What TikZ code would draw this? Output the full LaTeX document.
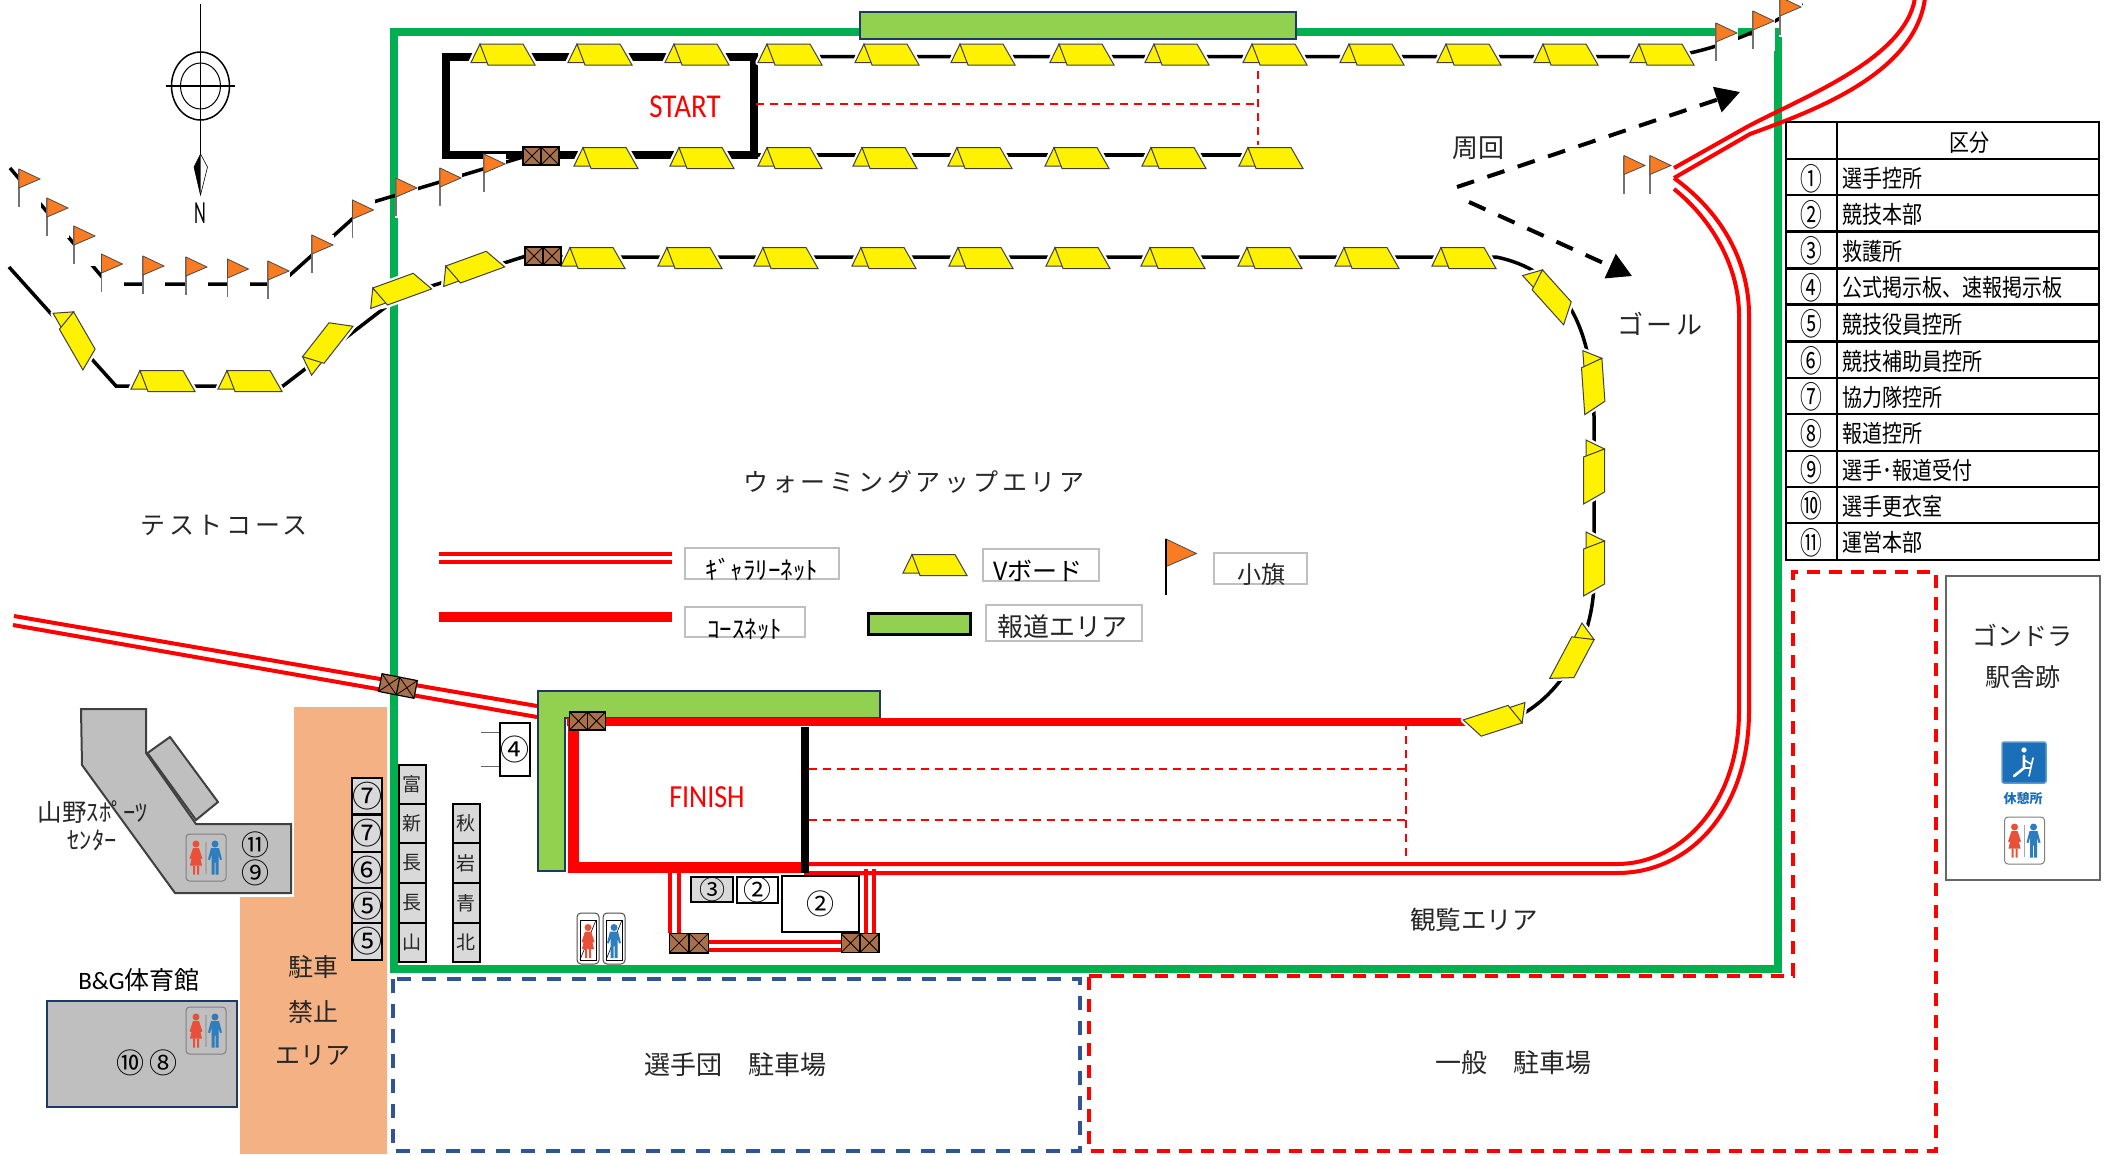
\documentclass[tikz,border=0pt]{standalone}
\usepackage{fontspec}
\usetikzlibrary{arrows.meta}
\setmainfont{Noto Sans CJK JP}
\newfontfamily\latinf{Carlito}
\newfontfamily\kanaw[LetterSpace=15]{Noto Sans CJK JP}
\newcommand\myfs[1]{\fontsize{#1}{#1}\selectfont}
\definecolor{grn}{HTML}{00B050}
\definecolor{pressg}{HTML}{92D050}
\definecolor{navy}{HTML}{1F3864}
\definecolor{dblue}{HTML}{2F5597}
\definecolor{orng}{HTML}{F4B183}
\definecolor{bldg}{HTML}{BFBFBF}
\definecolor{stk}{HTML}{D9D9D9}
\definecolor{yel}{HTML}{FFF200}
\definecolor{flagc}{HTML}{F97B22}
\definecolor{crate}{HTML}{A9714B}
\definecolor{wred}{HTML}{E8503A}
\definecolor{mblue}{HTML}{2E7DBE}
\definecolor{txt}{HTML}{262626}
\definecolor{rest}{HTML}{1B6FB8}
\tikzset{
  x=1pt,y=-1pt,
  lab/.style={inner sep=0,text=txt},
  gnet/.style={draw=red,line width=4,line cap=butt},
  blk/.style={draw=black,line width=3.5},
  blkt/.style={draw=black,line width=7.5,line cap=square},
  rdash/.style={draw=red,line width=2,dash pattern=on 8pt off 6pt},
  legbox/.style={draw=bldg,line width=1.5,fill=white},
  stackbox/.style={draw=black,line width=2,fill=stk,minimum width=27,inner sep=0,text=txt},
  tline/.style={draw=black,line width=2.6},
  vb/.pic={
    \path[draw=white,line width=5.5,line join=round,fill=white] (-23,-10.5)--(-32,8)--(-15,10.5)--(32,10.5)--(20,-10.5)--cycle;
    \filldraw[fill=yel,draw=black!75,line width=1] (-23,-10.5)--(-32,8)--(-15,8)--cycle;
    \filldraw[fill=yel,draw=black!75,line width=1] (-23,-10.5)--(20,-10.5)--(32,10.5)--(-15,10.5)--cycle;
  },
  flag/.pic={
    \fill[white] (-1,0) rectangle (22,40);
    \draw[black!55,line width=1.5] (0,0)--(0,38);
    \filldraw[fill=flagc,draw=black!70,line width=.8] (0,0)--(21,10)--(0,19)--cycle;
  },
  cratep/.pic={
    \filldraw[fill=crate,draw=black,line width=1.2] (-18,-9) rectangle (18,9);
    \draw[black,line width=1.2] (0,-9)--(0,9);
    \draw[black,line width=.8] (-18,-9)--(0,9) (-18,9)--(0,-9) (0,-9)--(18,9) (0,9)--(18,-9);
  },
  wfig/.pic={
    \fill[wred] (0,-13.5) circle (3.5);
    \fill[wred] (-3,-9.5)--(3,-9.5)--(6.5,1)--(4.5,1.5)--(6,8)--(-6,8)--(-4.5,1.5)--(-6.5,1)--cycle;
    \fill[wred] (-3,8) rectangle (-1,17) (1,8) rectangle (3,17);
  },
  mfig/.pic={
    \fill[mblue] (0,-13.5) circle (3.5);
    \fill[mblue] (-4,-9.5)--(4,-9.5)--(7,2)--(5,2.5)--(3.5,-3)--(3.5,17)--(.5,17)--(.5,5)--(-.5,5)--(-.5,17)--(-3.5,17)--(-3.5,-3)--(-5,2.5)--(-7,2)--cycle;
  },
  wcsign/.pic={
    \draw[black!50,line width=1,rounded corners=3.5] (-20,-23.5) rectangle (20,23.5);
    \draw[black!35,line width=1.3] (0,-16) -- (0,16);
    \pic at (-10,0) {wfig};
    \pic at (9,0) {mfig};
  },
}
\begin{document}
\begin{tikzpicture}
\useasboundingbox (0,0) rectangle (2116,1154);
\clip (0,0) rectangle (2116,1154);
\fill[white] (0,0) rectangle (2116,1154);

% no-parking area
\fill[orng] (294,707)--(387,707)--(387,1154)--(240,1154)--(240,897)--(294,897)--cycle;

% perimeter
\draw[grn,line width=8] (394,32) rectangle (1778,969);
\filldraw[fill=pressg,draw=navy,line width=2] (860,12) rectangle (1296,39);

% parking frames
\draw[dblue,line width=4,dash pattern=on 14pt off 11pt] (393,979) rectangle (1080,1151);
\draw[red,line width=3.5,dash pattern=on 13pt off 9pt] (1089,976)--(1793,976)--(1793,572)--(1936,572)--(1936,1151)--(1089,1151)--cycle;

% compass
\draw[black,line width=1.5] (200.5,4)--(200.5,155);
\draw[black,line width=1.5] (200.5,86) ellipse (29 and 34);
\draw[black,line width=1] (200.5,86) ellipse (20 and 23);
\draw[black,line width=2.5] (166,86)--(235,86);
\filldraw[fill=white,draw=black,line width=.6] (200.5,154)--(207.5,167)--(200.5,195)--(194,167)--cycle;
\fill[black] (200.5,154)--(194,167)--(200.5,195)--cycle;
\node[inner sep=0] (north) at (200,213) {\myfs{28}\latinf\scalebox{.65}[1.15]{N}};

% course fences: black lines
\draw[blkt] (754,57)--(446,57)--(446,155)--(754,155)--cycle;
\draw[blk] (754,56.5)--(1662,56.5) .. controls (1700,56) and (1770,30) .. (1802,3);
\draw[blk] (754,155)--(1271,155);
\draw[blk] (560,257)--(1496,257) .. controls (1560,270) and (1594,320) .. (1594,420) -- (1594,580) .. controls (1594,640) and (1560,700) .. (1510,720);
\draw[blk] (523,157)--(370,203)--(280,284)--(108,284)--(10,168);
\draw[blk] (526,256)--(400,296)--(283,386)--(116,386)--(9,267);

% net dashed lines
\draw[rdash] (756,104)--(1258,104);
\draw[rdash] (1258,57)--(1258,155);
\draw[rdash] (809,769)--(1406,769);
\draw[rdash] (809,820)--(1406,820);
\draw[rdash] (1406,722)--(1406,864);

% gallery net from the left
\draw[gnet] (14,616)--(537,706);
\draw[gnet] (13,625)--(537,717);
\pic[rotate=-11] at (398,686) {cratep};

% gallery net right
\draw[gnet] (804,864)--(1617,864) .. controls (1680,864) and (1739,805) .. (1739,711)--(1739,315) .. controls (1739,270) and (1715,222) .. (1674,189);
\draw[gnet] (804,873)--(1617,873) .. controls (1690,873) and (1749,810) .. (1749,711)--(1749,315) .. controls (1749,265) and (1725,215) .. (1674,178);
\draw[gnet] (1674,168)--(1745,128) .. controls (1800,98) and (1905,60) .. (1915,-2);
\draw[gnet] (1674,178)--(1750,134) .. controls (1810,112) and (1915,75) .. (1925,-2);

% gallery net below the finish
\draw[gnet] (670,873)--(670,933);
\draw[gnet] (679,873)--(679,933);
\draw[gnet] (865.5,869)--(865.5,933);
\draw[gnet] (874,869)--(874,933);
\draw[gnet] (708,942)--(841,942);
\draw[gnet] (708,950)--(841,950);
\pic[scale=1.1] at (689,943) {cratep};
\pic[scale=1.05] at (860,943) {cratep};

% press area L
\filldraw[fill=pressg,draw=navy,line width=2] (538,691)--(880,691)--(880,718)--(565,718)--(565,871)--(538,871)--cycle;

% finish
\draw[red,line width=8.5] (567,722)--(1467,722);
\draw[red,line width=11] (573.5,720)--(573.5,870);
\draw[red,line width=11] (568,867.5)--(804,867.5);
\draw[black,line width=7.5] (805,727)--(805,873);
\pic at (587.5,721) {cratep};

% buildings
\filldraw[fill=bldg,draw=black!75,line width=2] (147.5,753)--(170,737)--(218,802)--(196,820)--cycle;
\filldraw[fill=bldg,draw=black!75,line width=2] (81,709)--(146,709)--(146,753)--(196,824)--(291,824)--(291,893)--(175,893)--(82,765)--cycle;
\filldraw[fill=bldg,draw=navy,line width=2] (47,1001) rectangle (237,1107);
\pic at (206,857.5) {wcsign};
\pic at (206,1030.5) {wcsign};
\pic at (2024.5,840.5) {wcsign};
\node[lab,text=black] (c11) at (255,845) {\myfs{28}⑪};
\node[lab,text=black] (c9) at (255,873) {\myfs{28}⑨};
\node[lab,text=black] (c10) at (130,1063) {\myfs{28}⑩};
\node[lab,text=black] (c8) at (163,1063) {\myfs{28}⑧};
\node[lab] (yamano) at (93,812) {\myfs{24.5}山野ｽﾎﾟｰﾂ};
\node[lab] (center) at (92,840) {\myfs{24.5}ｾﾝﾀｰ};
\node[inner sep=0,text=black] (bg) at (139,980) {\myfs{25}{\latinf B\&G}体育館};

% no-parking label
\node[lab] (np1) at (313,967) {\myfs{25}駐車};
\node[lab] (np2) at (313,1012) {\myfs{25}禁止};
\node[lab] (np3) at (313,1056) {\myfs{25}エリア};

% stacks
\foreach \n/\y/\t in {1/796/⑦,2/833.5/⑦,3/870/⑥,4/906/⑤,5/941.5/⑤}
  \node[stackbox,minimum height=36.5,text=black] (sa\n) at (367,\y) {\myfs{30}\t};
\foreach \n/\y/\t in {1/784.5/富,2/823.5/新,3/863/長,4/903/長,5/942.5/山}
  \node[stackbox,minimum height=39.5] (sb\n) at (412,\y) {\myfs{19}\t};
\foreach \n/\y/\t in {1/823.5/秋,2/863/岩,3/903/青,4/942.5/北}
  \node[stackbox,minimum height=39.5] (sc\n) at (466,\y) {\myfs{19}\t};

% notice board 4
\draw[black!60,line width=2.4] (481,733)--(500,733) (481,767)--(500,767);
\draw[white,line width=.8] (481,733)--(500,733) (481,767)--(500,767);
\node[draw=black,line width=1.2,fill=white,minimum width=30,minimum height=53,inner sep=0,text=black] (b4) at (515,749.5) {\myfs{29}④};

% small offices
\node[draw=black,line width=2,fill=stk,minimum width=42,minimum height=25,inner sep=0,text=black] (b3) at (712,889.5) {\myfs{26}\raisebox{-2pt}{③}};
\node[draw=black,line width=2,fill=white,minimum width=41,minimum height=26,inner sep=0,text=black] (b2a) at (757.5,890) {\myfs{28}②};
\node[draw=black,line width=2,fill=white,minimum width=77,minimum height=56,inner sep=0,text=black] (b2b) at (820.5,904) {\myfs{28}②};

% toilet booths
\foreach \xa/\fg in {577/wfig,603/mfig}{
  \filldraw[fill=white,draw=black!70,line width=1,rounded corners=4] (\xa,913) rectangle (\xa+22,964);
  \draw[black,line width=.8] (\xa+3,920) rectangle (\xa+19,960);
  \draw[black,line width=.6] (\xa+3,960)--(\xa+19,920);
  \pic at (\xa+11,941) {\fg};
}

% boards: top row
\foreach \xb in {503,600,697,790,887,983,1082,1177,1275,1372,1469,1566,1662}
  \pic at (\xb,54.5) {vb};
% boards: second row
\foreach \xb in {606,702,790,885,980,1077,1174,1271}
  \pic at (\xb,158) {vb};
% boards: third row
\foreach \xb in {593,690,786,884,981,1078,1173,1270,1367,1464}
  \pic at (\xb,258) {vb};
% boards: rotated
\pic[rotate=20] at (398,290) {vb};
\pic[rotate=20] at (471,268) {vb};
\pic[rotate=52] at (325,345) {vb};
\pic at (163,381) {vb};
\pic at (250,381) {vb};
\pic[rotate=-60] at (76,337) {vb};
\pic[rotate=-48] at (1550,294) {vb};
\pic[rotate=-86] at (1593,382) {vb};
\pic[rotate=-90] at (1594,472) {vb};
\pic[rotate=-90] at (1594,564) {vb};
\pic[rotate=-118] at (1574,655) {vb};
\pic[rotate=-162] at (1497,720) {vb};

% crates at the start
\pic at (541,156) {cratep};
\pic at (543,256) {cratep};

% flags
\foreach \xf/\yf in {19/169,47/198,74/226,101.5/254,143/256,186/257,227.5/259,268/261,312/235,352.5/200,396/178,440/168,484/154,1716/23,1753/11,1780/-3,1624/155.5,1650/155.5}
  \pic at (\xf,\yf) {flag};

% flow arrows
\draw[black,line width=4,dash pattern=on 18pt off 14pt,-{Triangle[length=24,width=26]}] (1457,187)--(1740,92);
\draw[black,line width=4,dash pattern=on 18pt off 14pt,-{Triangle[length=24,width=26]}] (1469,202)--(1632,276);

% map labels
\node[red,inner sep=0] (start) at (685,107) {\myfs{29}\latinf\scalebox{1}[1.15]{START}};
\node[red,inner sep=0] (finish) at (707,797) {\myfs{28}\latinf\scalebox{1}[1.15]{FINISH}};
\node[lab] (lap) at (1478,148) {\myfs{26}周回};
\node[lab] (goal) at (1660,324) {\myfs{26}\kanaw ゴール};
\node[lab] (warm) at (914,482) {\myfs{25}\kanaw ウォーミングアップエリア};
\node[lab] (test) at (224,525) {\myfs{25}\kanaw テストコース};
\node[lab] (view) at (1474,920) {\myfs{25.5}観覧エリア};
\node[lab] (park1) at (735,1065) {\myfs{26}選手団　駐車場};
\node[lab] (park2) at (1513,1063) {\myfs{26}一般　駐車場};

% legend
\draw[gnet] (439,554)--(672,554);
\draw[gnet] (439,562)--(672,562);
\draw[red,line width=9.5] (439,617)--(672,617);
\path[legbox] (685,548) rectangle (839,579);
\node[lab,text=black] (lg1) at (762,570) {\myfs{25}ｷﾞｬﾗﾘｰﾈｯﾄ};
\path[legbox] (685,607) rectangle (805,637);
\node[lab,text=black] (lg2) at (744.5,629) {\myfs{25}ｺｰｽﾈｯﾄ};
\pic at (935,565) {vb};
\path[legbox] (983,549) rectangle (1099,581);
\node[lab,text=black] (lg3) at (1038,571) {\myfs{25}Vボード};
\filldraw[fill=pressg,draw=black,line width=3] (868,613) rectangle (970,634);
\path[legbox] (986,605) rectangle (1142,641);
\node[lab] (lg4) at (1062,627) {\myfs{26}報道エリア};
\pic[scale=1.45] at (1166,539) {flag};
\draw[black,line width=1.5] (1166,539)--(1166,595);
\path[legbox] (1214,553) rectangle (1307,584);
\node[lab] (lg5) at (1261,574) {\myfs{24}小旗};

% gondola box
\draw[black!60,line width=1.5] (1946,576) rectangle (2100,880);
\node[lab] (gon) at (2022,635) {\myfs{25}ゴンドラ};
\node[lab] (eki) at (2023,677) {\myfs{25}駅舎跡};
\filldraw[fill=rest,draw=rest!70,line width=1.5,rounded corners=2] (2002,742) rectangle (2046,783);
\fill[white] (2024,750) circle (2.6);
\draw[white,line width=2.6,line cap=round,line join=round] (2024,756)--(2024,768)--(2014,776);
\draw[white,line width=1.6,line cap=round] (2024,768)--(2030,768) (2033,758)--(2029,776) (2024,760)--(2031,764);
\node[inner sep=0,text=rest] (restl) at (2023,799) {\myfs{13}\bfseries 休憩所};

% table
\draw[tline] (1786,122) rectangle (2099,560);
\draw[tline] (1837,122)--(1837,560);
\foreach \yl in {159,195,231.5,268.5,304.5,341.5,378,414,451,487,523}
  \draw[tline] (1786,\yl)--(2099,\yl);
\node[inner sep=0,text=black] (thead) at (1969,143) {\myfs{20}\scalebox{1}[1.2]{区分}};
\foreach \n/\yr/\c/\t in {1/178.5/①/選手控所,2/214.5/②/競技本部,3/251/③/救護所,4/287.5/④/公式掲示板、速報掲示板,5/324/⑤/競技役員控所,6/361/⑥/競技補助員控所,7/397/⑦/協力隊控所,8/433.5/⑧/報道控所,9/470/⑨/選手･報道受付,10/506/⑩/選手更衣室,11/542.5/⑪/運営本部}{
  \node[inner sep=0,text=black] (tn\n) at (1811.5,\yr) {\myfs{28}\scalebox{.78}[1.1]{\c}};
  \node[inner sep=0,text=black,anchor=west] (tt\n) at (1842,\yr) {\myfs{20}\scalebox{1}[1.2]{\t}};
}
\end{tikzpicture}
\end{document}
